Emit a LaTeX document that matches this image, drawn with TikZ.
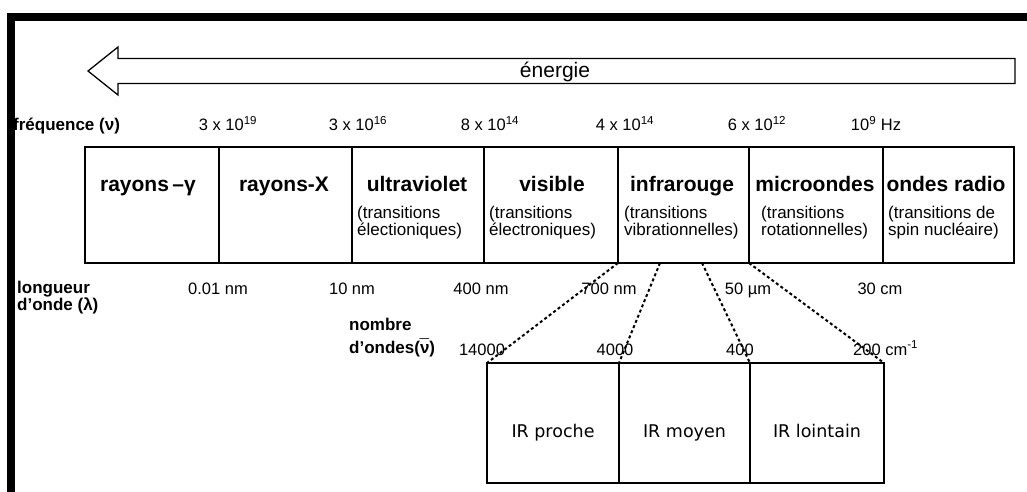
\documentclass[tikz,border=0pt]{standalone}
\usepackage{fontspec}
\setmainfont{Liberation Sans}
\newfontfamily\irfont{DejaVu Sans}
\usetikzlibrary{calc}

\begin{document}
\begin{tikzpicture}[x=1pt, y=-1pt,
  bande/.style={draw, line width=2pt, inner sep=0pt, outer sep=0pt, minimum height=116pt},
  zone/.style={draw, line width=2pt, inner sep=0pt, outer sep=0pt, minimum height=120pt},
  titre/.style={anchor=base, inner sep=0pt, font=\bfseries\fontsize{21}{24}\selectfont},
  trans/.style={anchor=north west, align=left, inner sep=0pt, font=\fontsize{17}{17}\selectfont},
  valeur/.style={anchor=base, inner sep=0pt, font=\fontsize{16.5}{18}\selectfont},
  axe/.style={anchor=base west, inner sep=0pt, font=\bfseries\fontsize{17}{18}\selectfont},
  irtexte/.style={anchor=base, inner sep=0pt, font=\irfont\fontsize{17.5}{20}\selectfont},
  pointille/.style={line width=2pt, dash pattern=on 3pt off 2.6pt}]
\useasboundingbox (0,0) rectangle (1027,492);

% fleche energie
\draw[line width=1.3pt, line join=miter] (88,71) -- (118,47) -- (118,58.5) -- (1015,58.5)
  -- (1015,83.5) -- (118,83.5) -- (118,95) -- cycle;
\node[inner sep=0pt, anchor=base, font=\fontsize{21}{22}\selectfont] (energie) at (555,78) {énergie};

% frequences
\node[axe] (freq) at (13,130) {fréquence (ν)};
\node[valeur] (f1) at (228,131) {3 x 10\textsuperscript{19}};
\node[valeur] (f2) at (358,131) {3 x 10\textsuperscript{16}};
\node[valeur] (f3) at (490,131) {8 x 10\textsuperscript{14}};
\node[valeur] (f4) at (625,131) {4 x 10\textsuperscript{14}};
\node[valeur] (f5) at (757,131) {6 x 10\textsuperscript{12}};
\node[valeur] (f6) at (876,131) {10\textsuperscript{9} Hz};

% bandes du spectre
\node[bande, minimum width=134pt] (gamma) at (152,205) {};
\node[bande, minimum width=133pt] (rx) at (285.5,205) {};
\node[bande, minimum width=132pt] (uv) at (418,205) {};
\node[bande, minimum width=134pt] (vis) at (551,205) {};
\node[bande, minimum width=131pt] (ir) at (683.5,205) {};
\node[bande, minimum width=134pt] (micro) at (816,205) {};
\node[bande, minimum width=131pt] (radio) at (948.5,205) {};

\node[titre] (tgamma) at (148,191) {rayons\,–γ};
\node[titre] (trx) at (284,191) {rayons-X};
\node[titre] (tuv) at (417,191) {ultraviolet};
\node[titre] (tvis) at (552,191) {visible};
\node[titre] (tir) at (682,191) {infrarouge};
\node[titre] (tmicro) at (815,191) {microondes};
\node[titre] (tradio) at (946,191) {ondes radio};

\node[trans] (suv) at ([xshift=5pt,yshift=-59pt]uv.north west) {(transitions\\électioniques)};
\node[trans] (svis) at ([xshift=5pt,yshift=-59pt]vis.north west) {(transitions\\électroniques)};
\node[trans] (sir) at ([xshift=6pt,yshift=-59pt]ir.north west) {(transitions\\vibrationnelles)};
\node[trans] (smicro) at ([xshift=12pt,yshift=-59pt]micro.north west) {(transitions\\rotationnelles)};
\node[trans] (sradio) at ([xshift=5pt,yshift=-59pt]radio.north west) {(transitions de\\spin nucléaire)};

% longueurs d'onde
\node[axe] (long) at (17,293) {longueur};
\node[axe] (long2) at (17,310) {d’onde (λ)};
\node[valeur] (l1) at (218,294) {0.01 nm};
\node[valeur] (l2) at (352,294) {10 nm};
\node[valeur] (l3) at (481,294) {400 nm};
\node[valeur] (l4) at (609,294) {700 nm};
\node[valeur] (l5) at (748,294) {50 µm};
\node[valeur] (l6) at (880,294) {30 cm};

% nombres d'onde
\node[axe] (nb) at (349,330) {nombre};
\node[axe] (nb2) at (349,353) {d’ondes(ν\llap{\raisebox{1.5pt}{¯}\kern0.4pt})};
\node[valeur] (n1) at (482,355) {14000};
\node[valeur] (n2) at (615,355) {4000};
\node[valeur] (n3) at (740,355) {400};
\node[valeur, anchor=base west] (n4) at (853,355) {200 cm\textsuperscript{-1}};

% domaines infrarouge
\node[zone, minimum width=132pt] (proche) at (553,423) {};
\node[zone, minimum width=131pt] (moyen) at (684.5,423) {};
\node[zone, minimum width=134pt] (lointain) at (817,423) {};
\node[irtexte] (tproche) at ([yshift=-14pt]proche.center) {IR proche};
\node[irtexte] (tmoyen) at ([yshift=-14pt]moyen.center) {IR moyen};
\node[irtexte] (tlointain) at ([yshift=-14pt]lointain.center) {IR lointain};

\coordinate (ira) at ($(ir.south west)+(42,0)$);
\coordinate (irb) at ($(ir.south west)+(84,0)$);
\draw[pointille] (ir.south west) -- (proche.north west);
\draw[pointille] (ira) -- (moyen.north west);
\draw[pointille] (irb) -- (lointain.north west);
\draw[pointille] (ir.south east) -- (lointain.north east);

% cadre noir
\fill (7,13) rectangle (1027,21);
\fill (7,13) rectangle (15,492);
\end{tikzpicture}
\end{document}
